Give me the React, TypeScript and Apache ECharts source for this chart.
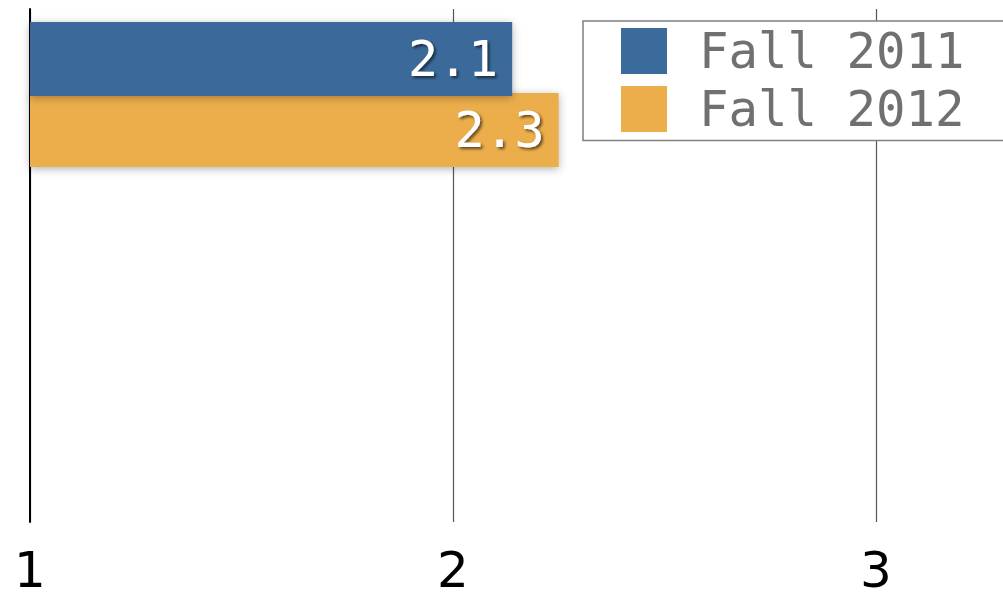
import React, { useEffect, useRef } from "react";
import * as echarts from "echarts";

const categories = ["Group A", "Group B", "Group C"];
const seriesNames = ["Fall 2011", "Fall 2012"];
const fall2011 = [2.14, null, null];
const fall2012 = [2.25, null, null];
const colors = ["#3B6B9A", "#ECAE4B"];
const axisMin = 1;
const axisMax = 3.35;

export default function App() {
  const ref = useRef<HTMLDivElement>(null);
  useEffect(() => {
    if (!ref.current) return;
    const chart = echarts.init(ref.current, null, { renderer: "svg" });
    const labelStyle = {
      show: true,
      position: "insideRight",
      distance: 14,
      color: "#ffffff",
      fontFamily: "DejaVu Sans Mono",
      fontSize: 50,
      textShadowColor: "rgba(0,0,0,0.6)",
      textShadowBlur: 3,
      textShadowOffsetX: 2,
      textShadowOffsetY: 2,
      formatter: (p: any) => Number(p.value).toFixed(1),
    };
    const barShadow = {
      shadowColor: "rgba(0,0,0,0.3)",
      shadowBlur: 8,
      shadowOffsetX: 0,
      shadowOffsetY: 2,
    };
    chart.setOption({
      animation: false,
      backgroundColor: "#ffffff",
      grid: {
        left: 30,
        width: 994,
        top: 9,
        height: 513,
        containLabel: false,
        outerBoundsMode: "none",
      },
      xAxis: {
        type: "value",
        min: axisMin,
        max: axisMax,
        interval: 1,
        axisLine: { show: false },
        axisTick: { show: false },
        splitLine: { show: true, lineStyle: { color: "#555555", width: 1.2 } },
        axisLabel: {
          color: "#000000",
          fontFamily: "DejaVu Sans",
          fontSize: 50,
          lineHeight: 40,
          margin: 27.7,
          showMaxLabel: false,
          formatter: (v: number) => (Number.isInteger(v) ? String(v) : ""),
        },
      },
      yAxis: {
        type: "category",
        inverse: true,
        data: categories,
        axisLine: { show: true, lineStyle: { color: "#000000", width: 2 } },
        axisTick: { show: false },
        axisLabel: { show: false },
        splitLine: { show: false },
      },
      legend: {
        orient: "vertical",
        left: 583,
        top: 21,
        data: seriesNames,
        icon: "rect",
        itemWidth: 46,
        itemHeight: 46,
        itemGap: 9,
        padding: [5.5, 60, 7, 38],
        backgroundColor: "#ffffff",
        borderColor: "#808080",
        borderWidth: 1.5,
        textStyle: {
          color: "#707070",
          fontFamily: "DejaVu Sans Mono",
          fontSize: 49,
          lineHeight: 46,
          padding: [0, 0, 0, 27],
        },
      },
      series: [
        {
          name: seriesNames[0],
          type: "bar",
          data: fall2011,
          barWidth: 74,
          barGap: "-4%",
          z: 3,
          itemStyle: { color: colors[0], ...barShadow },
          label: labelStyle,
        },
        {
          name: seriesNames[1],
          type: "bar",
          data: fall2012,
          barWidth: 74,
          barGap: "-4%",
          z: 2,
          itemStyle: { color: colors[1], ...barShadow },
          label: labelStyle,
        },
      ],
    });
    return () => chart.dispose();
  }, []);
  return (
    <div
      ref={ref}
      style={{ position: "fixed", left: 0, top: 0, width: 1003, height: 592 }}
    />
  );
}
